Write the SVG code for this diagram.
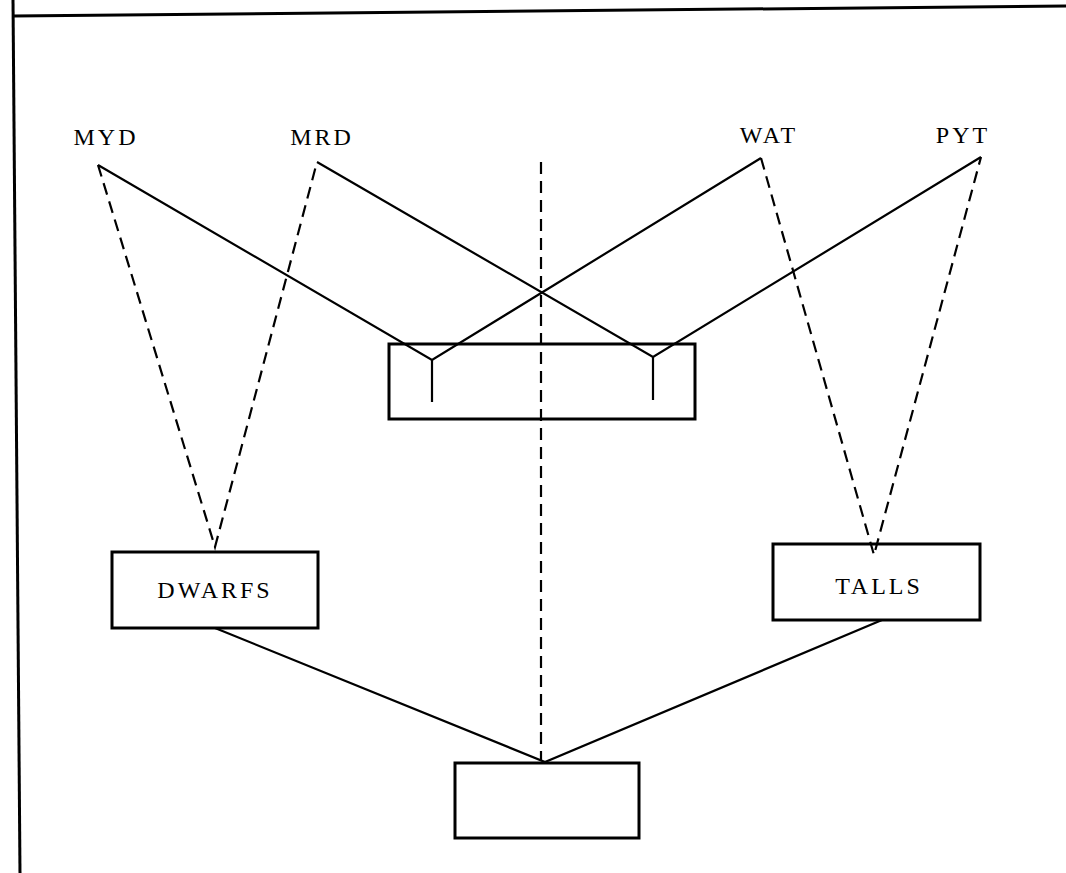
<svg xmlns="http://www.w3.org/2000/svg" width="1066" height="873" viewBox="0 0 1066 873">
<style>
.box{fill:none;stroke:#000;stroke-width:3}
.solid{fill:none;stroke:#000;stroke-width:2.2}
.dash{fill:none;stroke:#000;stroke-width:2.2;stroke-dasharray:12,7}
.lbl{font-family:"Liberation Serif",serif;font-size:24px;letter-spacing:3px;fill:#000}
.frame{fill:none;stroke:#000;stroke-width:3}
</style>
<rect width="1066" height="873" fill="#fff"/>
<g id="frame">
<line class="frame" x1="13" y1="0" x2="20" y2="873"/>
<line class="frame" x1="13" y1="16" x2="1066" y2="6"/>
</g>
<g id="connectors">
<line class="dash" x1="541" y1="162" x2="541" y2="760"/>
<polyline class="dash" points="98,165 215,547 317,162"/>
<polyline class="dash" points="761,158 874,555 981,157"/>
<polyline class="solid" points="98,165 432,360 761,158"/>
<polyline class="solid" points="317,162 653,357 981,157"/>
<line class="solid" x1="432" y1="360" x2="432" y2="402"/>
<line class="solid" x1="653" y1="357" x2="653" y2="400"/>
<polyline class="solid" points="215,628 545,762 882,620"/>
</g>
<g id="cross-box">
<rect class="box" x="389" y="344" width="306" height="75"/>
</g>
<g id="MYD"><text class="lbl" x="106" y="145" text-anchor="middle">MYD</text></g>
<g id="MRD"><text class="lbl" x="322" y="145" text-anchor="middle">MRD</text></g>
<g id="WAT"><text class="lbl" x="769" y="143" text-anchor="middle">WAT</text></g>
<g id="PYT"><text class="lbl" x="963" y="143" text-anchor="middle">PYT</text></g>
<g id="DWARFS">
<rect class="box" x="112" y="552" width="206" height="76"/>
<text class="lbl" x="215" y="598" text-anchor="middle">DWARFS</text>
</g>
<g id="TALLS">
<rect class="box" x="773" y="544" width="207" height="76"/>
<text class="lbl" x="879" y="594" text-anchor="middle">TALLS</text>
</g>
<g id="offspring">
<rect class="box" x="455" y="763" width="184" height="75"/>
</g>
</svg>
